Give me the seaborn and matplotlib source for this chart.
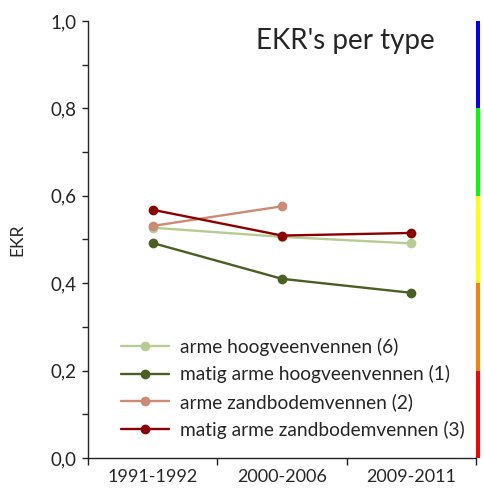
import pandas as pd
import seaborn as sns
import matplotlib.pyplot as plt
import matplotlib.ticker as mticker

# data
periodes = ['1991-1992', '2000-2006', '2009-2011']
types = ['arme hoogveenvennen (6)', 'matig arme hoogveenvennen (1)',
         'arme zandbodemvennen (2)', 'matig arme zandbodemvennen (3)']
arme_hoogveen = [0.527, 0.506, 0.491]
matig_arme_hoogveen = [0.492, 0.410, 0.378]
arme_zandbodem = [0.531, 0.576, None]
matig_arme_zandbodem = [0.568, 0.509, 0.515]
kleuren = ['#B7CC92', '#4B5F24', '#CB8B74', '#8B0000']

# EKR klassen (kleurbalk rechts)
klasse_grenzen = [0.0, 0.2, 0.4, 0.6, 0.8, 1.0]
klasse_kleuren = ['#FF0000', '#FF8000', '#FFFF00', '#00FF00', '#0000FF']

sns.set_style('white')
plt.rcParams['font.family'] = ['Lato', 'DejaVu Sans']

rows = []
for t, vals in zip(types, [arme_hoogveen, matig_arme_hoogveen, arme_zandbodem, matig_arme_zandbodem]):
    for p, v in zip(periodes, vals):
        rows.append({'periode': p, 'EKR': v, 'type': t})
data = pd.DataFrame(rows)

fig = plt.figure(figsize=(4.84, 4.91), dpi=100)
ax = fig.add_axes([88 / 484, 1 - 458 / 491, 388 / 484, 437 / 491])

sns.lineplot(data=data, x='periode', y='EKR', hue='type', palette=kleuren,
             marker='o', markersize=7, markeredgewidth=0, linewidth=1.7, ax=ax)

ax.set_ylim(0, 1.0)
ax.set_xlim(-0.5, 2.5)
ax.yaxis.set_major_locator(mticker.MultipleLocator(0.2))
ax.yaxis.set_minor_locator(mticker.MultipleLocator(0.1))
ax.yaxis.set_major_formatter(mticker.FuncFormatter(lambda v, pos: f'{v:.1f}'.replace('.', ',')))
ax.xaxis.set_minor_locator(mticker.FixedLocator([-0.5, 0.5, 1.5, 2.5]))
ax.tick_params(axis='y', which='both', direction='out', length=4, width=1, left=True,
               labelsize=13.5, pad=4, color='#222222')
ax.tick_params(axis='x', which='major', length=0, labelsize=13, pad=8)
ax.tick_params(axis='x', which='minor', direction='out', length=5, width=1, bottom=True, color='#222222')

for s in ['top', 'right']:
    ax.spines[s].set_visible(False)
for s in ['left', 'bottom']:
    ax.spines[s].set_color('#222222')
    ax.spines[s].set_linewidth(1)

ax.set_xlabel('')
ax.set_ylabel('EKR', fontsize=12.5, labelpad=18)

ax.text(0.894, 0.955, "EKR's per type", transform=ax.transAxes, ha='right', va='center', fontsize=20)

leg = ax.legend(loc='lower left', bbox_to_anchor=(0.04, 0.005), frameon=False, fontsize=13.8,
                handlelength=2.5, handletextpad=0.6, labelspacing=0.5)

# kleurbalk
cax = fig.add_axes([476 / 484, 1 - 458 / 491, 4 / 484, 437 / 491])
for lo, hi, c in zip(klasse_grenzen[:-1], klasse_grenzen[1:], klasse_kleuren):
    cax.axhspan(lo, hi, color=c, lw=0)
cax.set_ylim(0, 1.0)
cax.axis('off')

fig.savefig('out.png', dpi=100)
